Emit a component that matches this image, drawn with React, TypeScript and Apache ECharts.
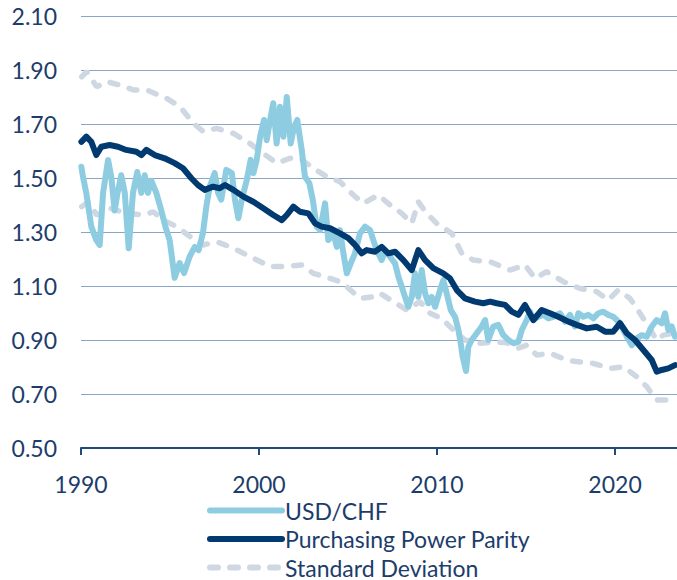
import React, { useEffect, useRef } from "react";
import * as echarts from "echarts";

const usdChf: [number, number][] = [
  [1990.02, 1.542], [1990.11, 1.505], [1990.3, 1.443], [1990.58, 1.32], [1990.86, 1.27], [1991.05, 1.252],
  [1991.24, 1.445], [1991.52, 1.567], [1991.7, 1.505], [1991.89, 1.38], [1992.04, 1.44], [1992.26, 1.51],
  [1992.46, 1.445], [1992.68, 1.24], [1992.92, 1.445], [1993.16, 1.522], [1993.39, 1.445], [1993.58, 1.51],
  [1993.76, 1.445], [1993.95, 1.49], [1994.23, 1.445], [1994.51, 1.38], [1994.74, 1.32], [1994.98, 1.27],
  [1995.26, 1.13], [1995.54, 1.185], [1995.79, 1.148], [1996.11, 1.21], [1996.39, 1.245], [1996.61, 1.233],
  [1996.85, 1.296], [1997.04, 1.394], [1997.23, 1.468], [1997.51, 1.518], [1997.7, 1.445], [1997.88, 1.42],
  [1998.16, 1.53], [1998.47, 1.518], [1998.65, 1.419], [1998.84, 1.351], [1999.03, 1.419], [1999.31, 1.492],
  [1999.53, 1.567], [1999.68, 1.518], [1999.87, 1.567], [2000.06, 1.653], [2000.28, 1.715], [2000.43, 1.64],
  [2000.62, 1.715], [2000.8, 1.777], [2000.99, 1.628], [2001.18, 1.764], [2001.37, 1.653], [2001.56, 1.8],
  [2001.78, 1.628], [2001.97, 1.69], [2002.15, 1.715], [2002.4, 1.604], [2002.58, 1.505], [2002.83, 1.48],
  [2003.02, 1.419], [2003.24, 1.32], [2003.43, 1.307], [2003.71, 1.406], [2003.89, 1.27], [2004.17, 1.295],
  [2004.37, 1.245], [2004.55, 1.307], [2004.74, 1.221], [2004.93, 1.147], [2005.15, 1.184], [2005.39, 1.221],
  [2005.67, 1.295], [2005.96, 1.32], [2006.24, 1.307], [2006.42, 1.27], [2006.61, 1.233], [2006.89, 1.196],
  [2007.08, 1.233], [2007.36, 1.208], [2007.64, 1.184], [2007.83, 1.134], [2008.02, 1.097], [2008.2, 1.06],
  [2008.39, 1.023], [2008.58, 1.06], [2008.76, 1.147], [2008.95, 1.06], [2009.14, 1.159], [2009.33, 1.073],
  [2009.51, 1.036], [2009.7, 1.06], [2009.89, 1.023], [2010.17, 1.085], [2010.35, 1.122], [2010.54, 1.073],
  [2010.77, 1.011], [2011.01, 0.986], [2011.2, 0.937], [2011.33, 0.888], [2011.44, 0.838], [2011.63, 0.785],
  [2011.76, 0.875], [2011.95, 0.9], [2012.23, 0.925], [2012.51, 0.95], [2012.7, 0.974], [2012.88, 0.9],
  [2013.16, 0.95], [2013.44, 0.956], [2013.72, 0.918], [2014.01, 0.9], [2014.29, 0.888], [2014.57, 0.893],
  [2014.76, 0.937], [2015.04, 0.974], [2015.22, 1.005], [2015.41, 0.974], [2015.69, 0.986], [2015.97, 0.993],
  [2016.25, 0.98], [2016.53, 0.986], [2016.91, 0.999], [2017.19, 0.968], [2017.47, 0.993], [2017.75, 0.95],
  [2017.94, 0.999], [2018.22, 0.986], [2018.5, 0.993], [2018.78, 0.98], [2019.06, 0.999], [2019.34, 1.005],
  [2019.62, 0.993], [2019.9, 0.986], [2020.28, 0.962], [2020.66, 0.912], [2020.94, 0.881], [2021.22, 0.906],
  [2021.5, 0.918], [2021.78, 0.912], [2022.06, 0.95], [2022.34, 0.974], [2022.62, 0.962], [2022.81, 0.999],
  [2022.99, 0.937], [2023.18, 0.95], [2023.37, 0.912],
];

const ppp: [number, number][] = [
  [1990.02, 1.634], [1990.3, 1.653], [1990.58, 1.634], [1990.86, 1.585], [1991.14, 1.616], [1991.61, 1.622],
  [1992.08, 1.616], [1992.54, 1.604], [1993.11, 1.597], [1993.39, 1.585], [1993.67, 1.604], [1994.14, 1.585],
  [1994.7, 1.573], [1995.26, 1.555], [1995.73, 1.536], [1996.2, 1.499], [1996.57, 1.474], [1996.95, 1.456],
  [1997.42, 1.468], [1997.79, 1.462], [1998.09, 1.474], [1998.56, 1.456], [1999.12, 1.431], [1999.68, 1.412],
  [2000.24, 1.388], [2000.8, 1.363], [2001.28, 1.344], [2001.56, 1.363], [2001.93, 1.394], [2002.3, 1.375],
  [2002.77, 1.369], [2003.15, 1.332], [2003.52, 1.32], [2003.99, 1.314], [2004.55, 1.295], [2005.02, 1.277],
  [2005.39, 1.252], [2005.77, 1.221], [2006.05, 1.233], [2006.52, 1.227], [2006.89, 1.245], [2007.26, 1.221],
  [2007.64, 1.227], [2008.11, 1.196], [2008.58, 1.159], [2008.95, 1.233], [2009.33, 1.196], [2009.79, 1.166],
  [2010.35, 1.147], [2010.73, 1.128], [2011.11, 1.085], [2011.57, 1.054], [2012.13, 1.042], [2012.6, 1.036],
  [2012.98, 1.042], [2013.35, 1.036], [2013.82, 1.03], [2014.2, 1.005], [2014.57, 0.993], [2014.94, 1.03],
  [2015.41, 0.974], [2015.88, 1.011], [2016.35, 0.999], [2016.81, 0.986], [2017.38, 0.968], [2017.85, 0.956],
  [2018.41, 0.943], [2018.97, 0.949], [2019.44, 0.931], [2019.9, 0.931], [2020.28, 0.962], [2020.66, 0.925],
  [2021.12, 0.9], [2021.59, 0.863], [2022.06, 0.826], [2022.34, 0.783], [2022.62, 0.789], [2022.99, 0.795],
  [2023.37, 0.807],
];

const stdUpper: [number, number][] = [
  [1990.04, 1.875], [1990.32, 1.894], [1990.88, 1.838], [1991.44, 1.857], [1992.19, 1.844], [1992.94, 1.826],
  [1993.69, 1.826], [1994.81, 1.795], [1995.56, 1.764], [1996.31, 1.703], [1996.87, 1.672], [1997.62, 1.684],
  [1998.56, 1.665], [1999.49, 1.628], [2000.24, 1.591], [2000.99, 1.555], [2001.74, 1.573], [2002.3, 1.573],
  [2003.05, 1.536], [2003.8, 1.505], [2004.55, 1.486], [2004.74, 1.474], [2005.3, 1.437], [2005.86, 1.406],
  [2006.7, 1.437], [2007.36, 1.4], [2008.02, 1.369], [2008.58, 1.332], [2008.95, 1.412], [2009.42, 1.369],
  [2009.98, 1.332], [2010.83, 1.295], [2011.39, 1.221], [2012.04, 1.196], [2012.98, 1.19], [2014.1, 1.159],
  [2014.94, 1.178], [2015.51, 1.128], [2016.16, 1.153], [2017.1, 1.116], [2018.03, 1.091], [2018.97, 1.079],
  [2019.62, 1.048], [2020.18, 1.085], [2020.84, 1.054], [2021.4, 0.999], [2021.87, 0.95], [2022.34, 0.9],
  [2022.71, 0.918], [2023.28, 0.925],
];

const stdLower: [number, number][] = [
  [1990.04, 1.394], [1990.41, 1.412], [1990.88, 1.363], [1991.63, 1.388], [1992.57, 1.369], [1993.5, 1.363],
  [1994.06, 1.375], [1994.62, 1.344], [1995.38, 1.32], [1996.12, 1.283], [1996.87, 1.252], [1997.62, 1.264],
  [1998.56, 1.24], [1999.68, 1.203], [2000.62, 1.172], [2001.56, 1.172], [2002.4, 1.178], [2003.05, 1.147],
  [2003.99, 1.128], [2004.55, 1.116], [2004.93, 1.097], [2005.67, 1.054], [2006.42, 1.06], [2006.8, 1.073],
  [2007.54, 1.042], [2008.3, 1.011], [2009.04, 1.042], [2009.61, 0.999], [2010.26, 0.98], [2010.92, 0.937],
  [2011.57, 0.9], [2012.42, 0.888], [2013.16, 0.893], [2013.92, 0.89], [2014.57, 0.87], [2015.04, 0.881],
  [2015.6, 0.844], [2016.35, 0.851], [2017.29, 0.826], [2017.85, 0.82], [2018.78, 0.813], [2019.72, 0.795],
  [2020.47, 0.801], [2021.22, 0.764], [2021.78, 0.727], [2022.34, 0.678], [2022.9, 0.678], [2023.37, 0.69],
];

const seriesNames = ["USD/CHF", "Purchasing Power Parity", "Standard Deviation"];

const TEXT = "#1c3d6b";
const FONT = "Lato";

export default function App() {
  const ref = useRef<HTMLDivElement>(null);
  useEffect(() => {
    document.body.style.margin = "0";
    const chart = echarts.init(ref.current!, null, { renderer: "svg" });
    const stdStyle = { color: "#cfd8e2", width: 5.5, type: [8, 12] as number[], cap: "round" as const };
    chart.setOption({
      animation: false,
      backgroundColor: "#ffffff",
      grid: { left: 81, right: 0, top: 16, bottom: 132, containLabel: false },
      xAxis: {
        type: "value",
        min: 1990,
        max: 2023.48,
        interval: 10,
        splitLine: { show: false },
        axisLine: { show: true, lineStyle: { color: "#1f4a7a", width: 2 } },
        axisTick: { show: true, length: 7, lineStyle: { color: "#1f4a7a", width: 2 } },
        axisLabel: { color: TEXT, fontFamily: FONT, fontSize: 23, margin: 24, showMaxLabel: false, formatter: (v: number) => String(Math.round(v)) },
      },
      yAxis: {
        type: "value",
        min: 0.5,
        max: 2.1,
        interval: 0.2,
        axisLine: { show: false },
        axisTick: { show: false },
        splitLine: { show: true, lineStyle: { color: "#8aa6c6", width: 1.2 } },
        axisLabel: { color: TEXT, fontFamily: FONT, fontSize: 23, margin: 24, formatter: (v: number) => v.toFixed(2) },
      },
      legend: {
        orient: "vertical",
        left: 207,
        top: 499,
        height: 110,
        padding: 0,
        itemWidth: 72,
        itemHeight: 14,
        itemGap: 5.5,
        data: seriesNames,
        textStyle: { color: TEXT, fontFamily: FONT, fontSize: 23, lineHeight: 23, padding: [0, 0, 0, -2] },
        lineStyle: { width: 6 },
        itemStyle: { opacity: 0 },
      },
      series: [
        {
          name: seriesNames[2], type: "line", data: stdUpper, symbol: "none", z: 1,
          lineStyle: stdStyle, itemStyle: { color: "#cfd8e2" },
        },
        {
          name: seriesNames[2], type: "line", data: stdLower, symbol: "none", z: 1,
          lineStyle: stdStyle, itemStyle: { color: "#cfd8e2" },
        },
        {
          name: seriesNames[0], type: "line", data: usdChf, symbol: "none", z: 2,
          lineStyle: { color: "#8ecde1", width: 6, join: "round", cap: "round" }, itemStyle: { color: "#8ecde1" },
        },
        {
          name: seriesNames[1], type: "line", data: ppp, symbol: "none", z: 3,
          lineStyle: { color: "#003a70", width: 6, join: "round", cap: "round" }, itemStyle: { color: "#003a70" },
        },
      ],
    });
    return () => chart.dispose();
  }, []);
  return <div ref={ref} style={{ position: "absolute", left: 0, top: 0, width: 677, height: 580 }} />;
}
